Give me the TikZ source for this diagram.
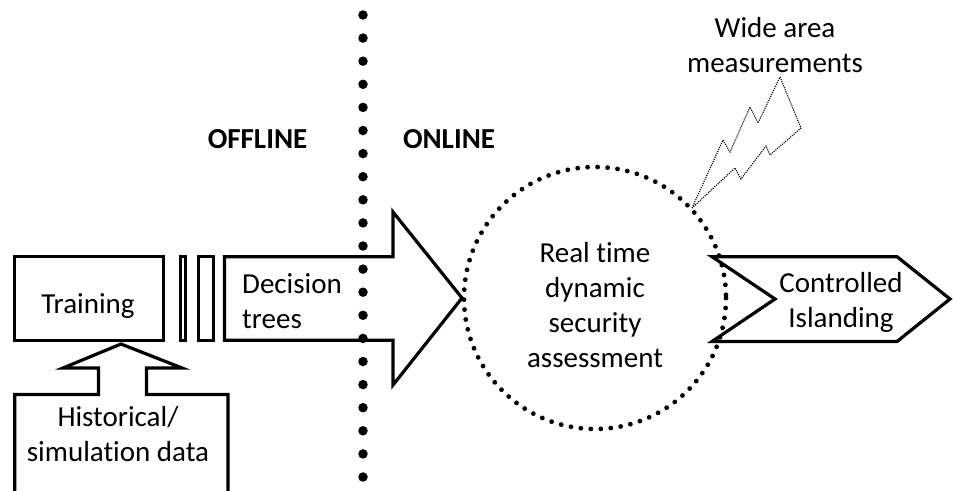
\documentclass[tikz,border=0pt]{standalone}
\usepackage{fontspec}
\setmainfont{Carlito}[Ligatures=NoCommon]
\usetikzlibrary{calc}

\begin{document}
\begin{tikzpicture}[x=1pt, y=-1pt, line join=miter,
        blk/.style={draw, line width=3.2pt},
        txt/.style={font=\fontsize{29}{35}\selectfont, inner sep=0pt, align=center},
        hdr/.style={font=\fontsize{29}{35}\selectfont\bfseries, inner sep=0pt}]
        \useasboundingbox (0,0) rectangle (953,490);

        % training box, the two bars and the decision tree arrow
        \coordinate (T1) at (14.7,256.7);
        \coordinate (T2) at (163.3,340.3);
        \draw[blk] (T1) rectangle (T2);
        \draw[blk] (180.5,256.7) rectangle (185.5,340.3);
        \draw[blk] (198.5,256.7) rectangle (213.5,340.3);
        \draw[blk] (224.5,256.7) -- (393,256.7) -- (393,212) -- (462,298)
            -- (393,385) -- (393,340.3) -- (224.5,340.3) -- cycle;

        % data box with its arrow up into training
        \coordinate (H) at (121,344);
        \draw[blk] (14.7,495) -- (14.7,394.5) -- (98.5,394.5) -- (98.5,368)
            -- (63,368) -- (H) -- (182,368) -- (146.5,368) -- (146.5,394.5)
            -- (228,394.5) -- (228,495);

        % dynamic security assessment
        \coordinate (O) at (595,298);
        \draw[line width=4.8pt, line cap=round, dash pattern=on 0pt off 10pt] (O) circle (131);

        % controlled islanding
        \draw[blk] (712,256.7) -- (897,256.7) -- (950,299) -- (897,341.5)
            -- (712,341.5) -- (775,299) -- cycle;

        % measurements coming in
        \draw[line width=1.1pt, dash pattern=on 1.1pt off 1.1pt] (692,208) -- (723,140) -- (730,152)
            -- (750,107) -- (758,123) -- (780,77) -- (801,128) -- (770,155) -- (766,146)
            -- (741,179) -- (735,168) -- cycle;

        % offline / online divide
        \coordinate (divtop) at (363,15);
        \coordinate (divbot) at (363,477);
        \draw[line width=9.5pt, line cap=round, dash pattern=on 0pt off 23.1pt] (divtop) -- (divbot);

        \node[hdr, anchor=base] (offline) at (257.5,148) {OFFLINE};
        \node[hdr, anchor=base] (online) at (449,148) {ONLINE};
        \node[txt, anchor=base] (train) at (88,313) {Training};
        \node[txt, align=left, anchor=west] (trees) at (242,301) {Decision\\trees};
        \node[txt] (hist) at (118,434.5) {Historical/\\simulation data};
        \node[txt] (dsa) at (595,305) {Real time\\dynamic\\security\\assessment};
        \node[txt] (island) at (841,302.5) {Controlled\\Islanding};
        \node[txt] (wams) at (775,45) {Wide area\\measurements};
\end{tikzpicture}
\end{document}
